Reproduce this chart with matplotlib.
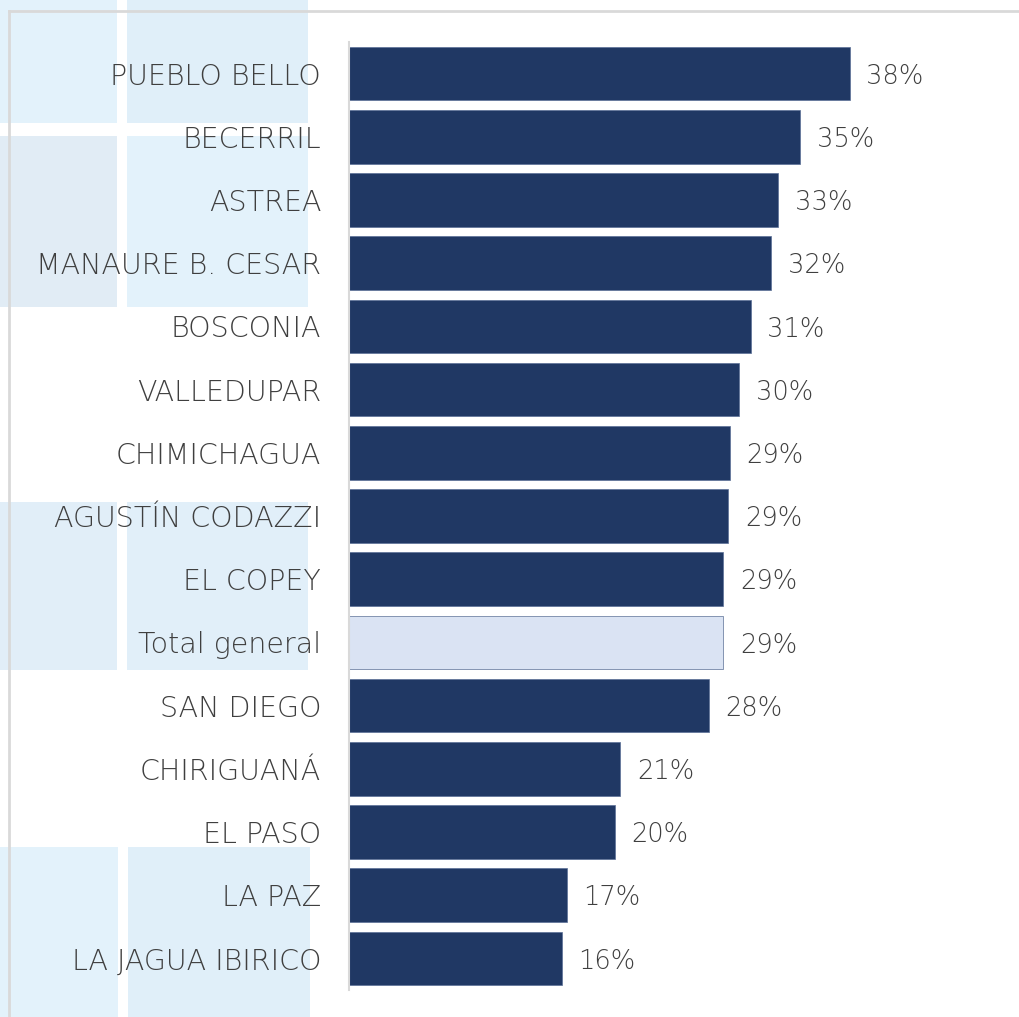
import matplotlib.pyplot as plt
from matplotlib.patches import Rectangle
from matplotlib.lines import Line2D

# municipios (top to bottom) and share in %
municipios = ["PUEBLO BELLO", "BECERRIL", "ASTREA", "MANAURE B. CESAR", "BOSCONIA",
              "VALLEDUPAR", "CHIMICHAGUA", "AGUSTÍN CODAZZI", "EL COPEY", "Total general",
              "SAN DIEGO", "CHIRIGUANÁ", "EL PASO", "LA PAZ", "LA JAGUA IBIRICO"]
valores = [38.4, 34.6, 32.9, 32.4, 30.8, 29.9, 29.2, 29.1, 28.7, 28.7,
           27.6, 20.8, 20.4, 16.7, 16.3]

W, H = 1020, 1017
fig = plt.figure(figsize=(W / 100, H / 100), dpi=100)
fig.patch.set_facecolor("white")

# background squares behind the labels (pixel boxes, y from top)
cuadros = [(0, 0, 117, 123, "#e3f2fb"), (127, 0, 308, 123, "#e0eff9"),
           (0, 136, 117, 307, "#e1ecf5"), (127, 136, 308, 307, "#e3f2fb"),
           (0, 502, 117, 670, "#e1eef8"), (127, 502, 308, 670, "#e1eff9"),
           (0, 847, 118, 1017, "#e3f2fb"), (128, 847, 310, 1017, "#e0eff9")]
for x0, y0, x1, y1, c in cuadros:
    fig.patches.append(Rectangle((x0 / W, 1 - y1 / H), (x1 - x0) / W, (y1 - y0) / H,
                                 transform=fig.transFigure, facecolor=c,
                                 edgecolor="none", zorder=-2))

# light grey frame at top / left
fig.lines.append(Line2D([9 / W, 1], [1 - 11 / H, 1 - 11 / H], transform=fig.transFigure,
                        color="#d9d9d9", lw=2, zorder=-1))
fig.lines.append(Line2D([9 / W, 9 / W], [0, 1 - 11 / H], transform=fig.transFigure,
                        color="#d9d9d9", lw=2, zorder=-1))

ax_left, ax_right, ax_top, ax_bot = 349, 1000, 42, 990
ax = fig.add_axes([ax_left / W, 1 - ax_bot / H, (ax_right - ax_left) / W, (ax_bot - ax_top) / H])
ax.set_facecolor("none")

colores = ["#dae3f3" if m == "Total general" else "#203864" for m in municipios]
y = list(range(len(municipios)))
ax.barh(y, valores, height=0.85, color=colores, edgecolor="#5a6f96", linewidth=0.5)

for yi, v in zip(y, valores):
    ax.annotate(f"{round(v)}%", (v, yi), xytext=(12, -2), textcoords="offset points",
                va="center", ha="left", fontsize=18.5, color="#3f3f3f", fontweight="light")

ax.set_yticks(y)
ax.set_yticklabels(municipios, fontsize=20.5, color="#3f3f3f", fontweight="light")
ax.tick_params(axis="y", length=0, pad=20)
for lbl in ax.get_yticklabels():
    lbl.set_y(lbl.get_position()[1])
ax.set_xticks([])
ax.set_ylim(len(municipios) - 0.5, -0.5)
ax.set_xlim(0, (ax_right - ax_left) / 13.04)

for s in ["top", "right", "bottom"]:
    ax.spines[s].set_visible(False)
ax.spines["left"].set_color("#d9d9d9")
ax.spines["left"].set_linewidth(1.5)

fig.savefig("out.png", dpi=100)
